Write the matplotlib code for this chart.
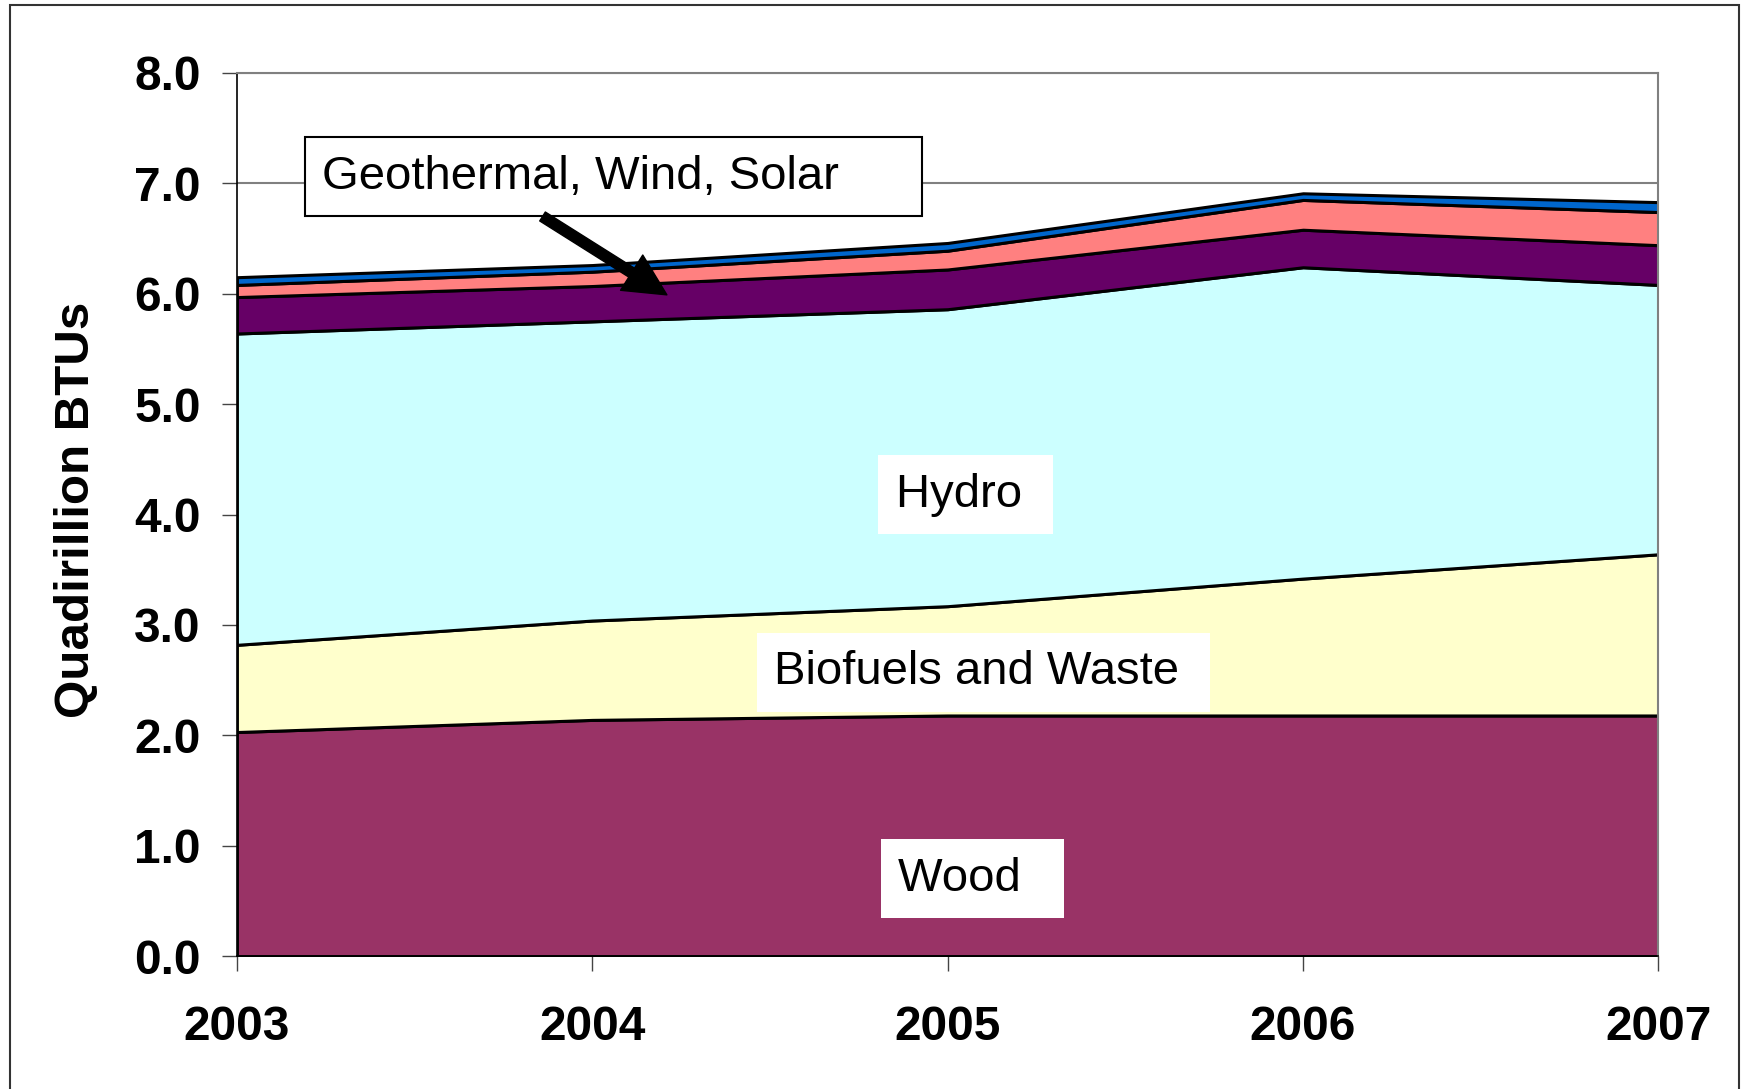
import matplotlib.pyplot as plt
from matplotlib.patches import Rectangle

plt.rcParams['font.family'] = ['Liberation Sans', 'DejaVu Sans']

# dados (quadrilhoes de BTU)
years = [2003, 2004, 2005, 2006, 2007]
wood = [2.03, 2.14, 2.18, 2.18, 2.18]
biofuels = [0.79, 0.90, 0.99, 1.24, 1.46]
hydro = [2.82, 2.71, 2.69, 2.82, 2.44]
geothermal = [0.33, 0.32, 0.36, 0.34, 0.36]
wind = [0.11, 0.13, 0.17, 0.27, 0.30]
solar = [0.07, 0.06, 0.07, 0.06, 0.09]

colors = ['#993366', '#FFFFCC', '#CCFFFF', '#660066', '#FF8080', '#0066CC']
yticks = [0, 1, 2, 3, 4, 5, 6, 7, 8]

fig = plt.figure(figsize=(17.42, 10.89), dpi=100)
ax = fig.add_axes([0.136, 0.122, 0.816, 0.811])

ax.stackplot(years, wood, biofuels, hydro, geothermal, wind, solar,
             colors=colors, edgecolor='black', linewidth=2.2, zorder=2)

ax.set_xlim(2003, 2007)
ax.set_ylim(0, 8)
ax.set_xticks(years)
ax.set_xticklabels([str(y) for y in years])
ax.set_yticks(yticks)
ax.set_yticklabels(['%.1f' % v for v in yticks])
ax.tick_params(labelsize=34.5, length=11, width=1, color='#444444', direction='out')
ax.tick_params(axis='x', pad=24)
ax.tick_params(axis='y', pad=15)
for lab in ax.get_xticklabels() + ax.get_yticklabels():
    lab.set_fontweight('bold')

ax.yaxis.grid(True, color='#808080', linewidth=1.5, zorder=0)
ax.set_axisbelow(True)
ax.spines['top'].set_color('#808080')
ax.spines['right'].set_color('#808080')
ax.spines['top'].set_linewidth(1.5)
ax.spines['right'].set_linewidth(1.5)
ax.spines['left'].set_linewidth(1.2)
ax.spines['bottom'].set_linewidth(1.2)

ax.set_ylabel('Quadirillion BTUs', fontsize=35.5, fontweight='bold')
ax.yaxis.set_label_coords(-0.097, 0.505)

# rotulos das areas
box = dict(boxstyle='square,pad=0.37', fc='white', ec='none')
ax.text(2005.05, 4.18, 'Hydro ', fontsize=34, ha='center', va='center', bbox=box, zorder=5)
ax.text(2005.10, 2.57, 'Biofuels and Waste ', fontsize=34, ha='center', va='center', bbox=box, zorder=5)
ax.text(2005.07, 0.70, 'Wood  ', fontsize=34, ha='center', va='center', bbox=box, zorder=5)
ax.text(2004.06, 7.06, 'Geothermal, Wind, Solar     ', fontsize=34, ha='center', va='center',
        bbox=dict(boxstyle='square,pad=0.37', fc='white', ec='black', lw=1.5), zorder=5)

ax.annotate('', xy=(2004.21, 5.99), xytext=(2003.86, 6.70),
            arrowprops=dict(arrowstyle='simple,head_length=1.5,head_width=1.5,tail_width=0.38',
                            mutation_scale=20, fc='black', ec='black', shrinkA=0, shrinkB=0),
            zorder=6)

# moldura externa
fig.patches.append(Rectangle((0.0057, -0.01), 0.9926, 1.0054, transform=fig.transFigure,
                             fill=False, ec='#333333', lw=1.5))

fig.savefig('out.png', dpi=100)
